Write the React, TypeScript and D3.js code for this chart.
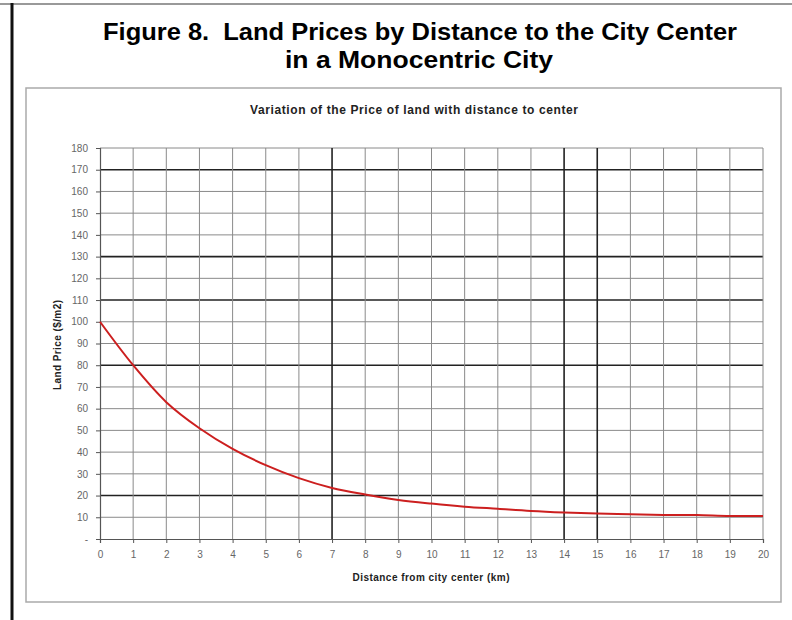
import { useEffect, useRef } from "react"
import * as d3 from "d3"

// distance from city center (km) and land price ($/m2)
const distances = [0, 1, 2, 3, 4, 5, 6, 7, 8, 9, 10, 11, 12, 13, 14, 15, 16, 17, 18, 19, 20]
const prices = [100, 80, 63, 51, 41.5, 34, 28, 23.5, 20.5, 18, 16.3, 14.9, 13.9, 12.9, 12.2, 11.7, 11.4, 11.1, 11, 10.6, 10.6]

const yTicks = [0, 10, 20, 30, 40, 50, 60, 70, 80, 90, 100, 110, 120, 130, 140, 150, 160, 170, 180]
const xTicks = distances

// the scan shows a few gridlines darker than the rest
const darkY = [170, 130, 110, 80, 20]
const darkX = [7, 14, 15]

const App = () => {
  const svgRef = useRef(null)

  useEffect(() => {
    const svg = d3.select(svgRef.current)
    svg.selectAll("*").remove()

    const font = "Arial, 'Liberation Sans', sans-serif"

    //outer page frame
    svg.append("line")
      .attr("x1", 0).attr("x2", 792).attr("y1", 4).attr("y2", 4)
      .attr("stroke", "#999").attr("stroke-width", 2)
    svg.append("line")
      .attr("x1", 12).attr("x2", 12).attr("y1", 3).attr("y2", 620)
      .attr("stroke", "#111").attr("stroke-width", 3)

    //figure title
    svg.append("text")
      .attr("x", 420).attr("y", 40)
      .attr("text-anchor", "middle")
      .style("font-family", font).style("font-weight", "bold").style("font-size", "23px")
      .style("white-space", "pre")
      .attr("textLength", 634).attr("lengthAdjust", "spacingAndGlyphs")
      .text("Figure 8.  Land Prices by Distance to the City Center")
    svg.append("text")
      .attr("x", 419).attr("y", 68)
      .attr("text-anchor", "middle")
      .style("font-family", font).style("font-weight", "bold").style("font-size", "23px")
      .attr("textLength", 268).attr("lengthAdjust", "spacingAndGlyphs")
      .text("in a Monocentric City")

    //chart box
    svg.append("rect")
      .attr("x", 26).attr("y", 88).attr("width", 755).attr("height", 514)
      .attr("fill", "#fff").attr("stroke", "#aaa").attr("stroke-width", 1.5)

    svg.append("text")
      .attr("x", 414).attr("y", 114)
      .attr("text-anchor", "middle")
      .style("font-family", font).style("font-weight", "bold").style("font-size", "12px")
      .attr("textLength", 328).attr("lengthAdjust", "spacing")
      .attr("fill", "#222")
      .text("Variation of the Price of land with distance to center")

    const x = d3.scaleLinear().domain([0, 20]).range([100, 763])
    const y = d3.scaleLinear().domain([0, 180]).range([539, 148])

    //horizontal gridlines
    svg.append("g")
      .selectAll("line")
      .data(yTicks.filter(d => d > 0))
      .enter()
      .append("line")
      .attr("x1", x(0)).attr("x2", x(20))
      .attr("y1", d => y(d)).attr("y2", d => y(d))
      .attr("stroke", d => darkY.includes(d) ? "#222" : "#8a8a8a")
      .attr("stroke-width", d => darkY.includes(d) ? 1.6 : 1)

    //vertical gridlines
    svg.append("g")
      .selectAll("line")
      .data(xTicks.filter(d => d > 0))
      .enter()
      .append("line")
      .attr("y1", y(0)).attr("y2", y(180))
      .attr("x1", d => x(d)).attr("x2", d => x(d))
      .attr("stroke", d => darkX.includes(d) ? "#222" : "#8a8a8a")
      .attr("stroke-width", d => darkX.includes(d) ? 1.6 : 1)

    //axes
    const yAxis = svg.append("g")
      .attr("transform", `translate(${x(0)},0)`)
      .call(d3.axisLeft(y).tickValues(yTicks).tickSize(4).tickPadding(8)
        .tickFormat(d => d === 0 ? "-" : String(d)))
    const xAxis = svg.append("g")
      .attr("transform", `translate(0,${y(0)})`)
      .call(d3.axisBottom(x).tickValues(xTicks).tickSize(4).tickPadding(8))

    ;[yAxis, xAxis].forEach(a => {
      a.select(".domain").attr("stroke", "#555").attr("stroke-width", 1.2)
      a.selectAll(".tick line").attr("stroke", "#555")
      a.selectAll(".tick text")
        .style("font-family", font).style("font-size", "10px").attr("fill", "#666")
    })

    //price curve
    const line = d3.line()
      .x((d, i) => x(distances[i]))
      .y(d => y(d))
      .curve(d3.curveCatmullRom)

    svg.append("path")
      .datum(prices)
      .attr("fill", "none")
      .attr("stroke", "#cc1f1f")
      .attr("stroke-width", 2)
      .attr("d", line)

    //axis titles
    svg.append("text")
      .attr("transform", `translate(61,${345}) rotate(-90)`)
      .attr("text-anchor", "middle")
      .style("font-family", font).style("font-weight", "bold").style("font-size", "10px")
      .attr("textLength", 90).attr("lengthAdjust", "spacing")
      .attr("fill", "#222")
      .text("Land Price ($/m2)")
    svg.append("text")
      .attr("x", 431).attr("y", 581)
      .attr("text-anchor", "middle")
      .style("font-family", font).style("font-weight", "bold").style("font-size", "10px")
      .attr("textLength", 157).attr("lengthAdjust", "spacing")
      .attr("fill", "#222")
      .text("Distance from city center (km)")
  }, [])

  return (
    <svg ref={svgRef} width={792} height={620}
      style={{ position: "absolute", left: 0, top: 0, background: "#fff" }}>
    </svg>
  )
}

export default App
